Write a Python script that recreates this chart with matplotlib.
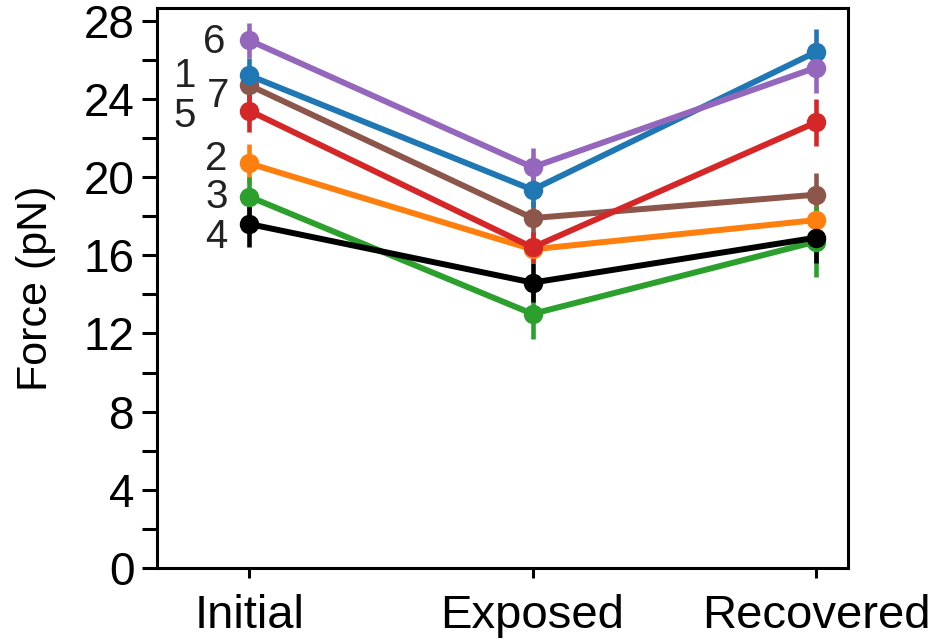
import matplotlib
matplotlib.use("Agg")
import matplotlib.pyplot as plt
from matplotlib.ticker import MultipleLocator

plt.rcParams['font.family'] = ['Liberation Sans', 'DejaVu Sans']

conditions = ["Initial", "Exposed", "Recovered"]
labels = ["7", "1", "2", "3", "4", "5", "6"]
colors = ["#8c564b", "#1f77b4", "#ff7f0e", "#2ca02c", "#000000", "#d62728", "#9467bd"]
means = [
    [24.7, 17.9, 19.1],   # 7
    [25.2, 19.35, 26.4],  # 1
    [20.7, 16.3, 17.8],   # 2
    [19.0, 13.0, 16.7],   # 3
    [17.6, 14.6, 16.9],   # 4
    [23.4, 16.4, 22.8],   # 5
    [27.0, 20.5, 25.6],   # 6
]
errors = [
    [0.8, 0.9, 1.1],
    [0.9, 0.9, 1.2],
    [1.0, 0.7, 0.7],
    [1.0, 1.3, 1.8],
    [1.2, 1.0, 1.3],
    [1.1, 0.8, 1.2],
    [0.9, 1.0, 1.3],
]
label_pos = {"6": (-0.123, 26.36), "1": (-0.226, 24.62), "7": (-0.109, 23.59),
             "5": (-0.229, 22.55), "2": (-0.116, 20.37), "3": (-0.116, 18.42),
             "4": (-0.116, 16.38)}

fig = plt.figure(figsize=(9.39, 6.44), dpi=100)
ax = fig.add_axes([0.1672, 0.118, 0.7359, 0.8696])
x = list(range(len(conditions)))
for lab, c, m, e in zip(labels, colors, means, errors):
    ax.errorbar(x, m, yerr=e, color=c, lw=4.3, elinewidth=3.3, capsize=0,
                marker='o', ms=13)
    px, py = label_pos[lab]
    ax.text(px, py, lab, fontsize=29, ha='center', va='baseline', color='#222222')

ax.set_xlim(-0.325, 2.113)
ax.set_ylim(0, 28.65)
ax.yaxis.set_major_locator(MultipleLocator(4))
ax.yaxis.set_minor_locator(MultipleLocator(2))
ax.set_xticks(x)
ax.set_xticklabels(conditions)
ax.tick_params(axis='y', which='both', length=11, width=2.2, labelsize=33, direction='out', pad=5)
ax.tick_params(axis='x', length=7, width=2.2, labelsize=34, pad=12)
for s in ax.spines.values():
    s.set_linewidth(2.2)
ax.set_ylabel("Force (pN)", fontsize=31, labelpad=20)
fig.savefig("out.png", dpi=100)
